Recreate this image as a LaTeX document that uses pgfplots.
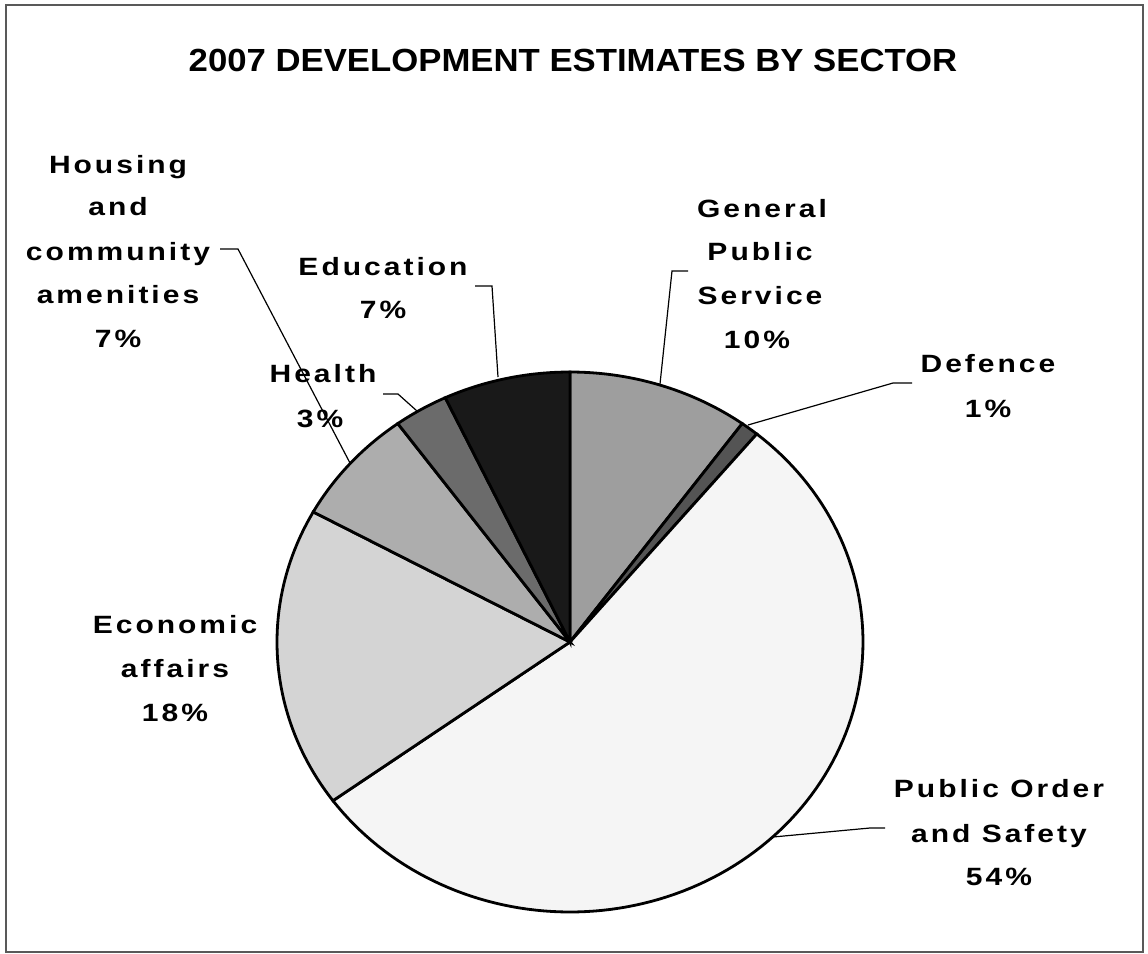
\documentclass[border=0pt]{standalone}
\usepackage{pgfplots}
\pgfplotsset{compat=1.18}
\usepackage{fontspec}
\setmainfont{Liberation Sans}
\newfontfamily\lblfont[FakeStretch=1.2,LetterSpace=12]{Liberation Sans}
\newfontfamily\ttlfont[FakeStretch=1.085]{Liberation Sans}

\definecolor{cgps}{gray}{0.62}
\definecolor{cdef}{gray}{0.33}
\definecolor{cpub}{gray}{0.96}
\definecolor{ceco}{gray}{0.83}
\definecolor{chou}{gray}{0.68}
\definecolor{chea}{gray}{0.42}
\definecolor{cedu}{gray}{0.10}

\tikzset{
  lbl/.style={anchor=base, inner sep=0pt, font=\lblfont\bfseries\fontsize{12.5}{15}\selectfont},
  lead/.style={black, line width=0.6pt},
}

% one wedge: cumulative percent before it, its percent, fill colour
% pie centre (570,642) px, radii 293 x 270 px, starts at 12 o'clock, clockwise
\newcommand{\slice}[3]{%
  \pgfmathsetmacro\angA{90-3.6*#1}%
  \pgfmathsetmacro\angB{90-3.6*(#1+#2)}%
  \edef\doslice{\noexpand\addplot[draw=black, line width=1.4pt, fill=#3,
    domain=\angB:\angA, samples=120]
    ({570+293*cos(x)},{642-270*sin(x)}) -- (axis cs:570,642) -- cycle;}%
  \doslice}

\begin{document}
\begin{tikzpicture}
\begin{axis}[
  width=574pt, height=477pt, scale only axis,
  xmin=0, xmax=1148, ymin=0, ymax=954, y dir=reverse,
  axis lines=none, clip=false,
]
\path (axis cs:0,0) rectangle (axis cs:1148,954);
\draw[gray!70!black, line width=0.8pt] (axis cs:6,5) rectangle (axis cs:1143,952);

% slices (percent of total)
\slice{0}{10}{cgps}   % General Public Service
\slice{10}{1}{cdef}   % Defence
\slice{11}{54}{cpub}  % Public Order and Safety
\slice{65}{18}{ceco}  % Economic affairs
\slice{83}{7}{chou}   % Housing and community amenities
\slice{90}{3}{chea}   % Health
\slice{93}{7}{cedu}   % Education

% title
\node[anchor=base, inner sep=0pt, font=\ttlfont\bfseries\fontsize{16}{19}\selectfont]
  at (axis cs:573,71) {2007 DEVELOPMENT ESTIMATES BY SECTOR};

% leader lines
\draw[lead] (axis cs:220,249) -- (axis cs:238,249) -- (axis cs:350,463);
\draw[lead] (axis cs:383,394) -- (axis cs:398,394) -- (axis cs:417,411);
\draw[lead] (axis cs:475,286) -- (axis cs:492,286) -- (axis cs:498,377);
\draw[lead] (axis cs:688,271) -- (axis cs:672,271) -- (axis cs:660,384);
\draw[lead] (axis cs:912,383) -- (axis cs:893,383) -- (axis cs:748,425);
\draw[lead] (axis cs:885,828) -- (axis cs:870,828) -- (axis cs:773,837);

% labels
\node[lbl] at (axis cs:118,173) {Housing};
\node[lbl] at (axis cs:118,215) {and};
\node[lbl] at (axis cs:118,260) {community};
\node[lbl] at (axis cs:118,303) {amenities};
\node[lbl] at (axis cs:118,347) {7\%};

\node[lbl] at (axis cs:383,275) {Education};
\node[lbl] at (axis cs:383,318) {7\%};

\node[lbl] at (axis cs:323,382) {Health};
\node[lbl] at (axis cs:320,427) {3\%};

\node[lbl] at (axis cs:762,217) {General};
\node[lbl] at (axis cs:760,260) {Public};
\node[lbl] at (axis cs:760,304) {Service};
\node[lbl] at (axis cs:757,348) {10\%};

\node[lbl] at (axis cs:988,372) {Defence};
\node[lbl] at (axis cs:988,417) {1\%};

\node[lbl] at (axis cs:175,633) {Economic};
\node[lbl] at (axis cs:175,677) {affairs};
\node[lbl] at (axis cs:175,721) {18\%};

\node[lbl] at (axis cs:999,797) {Public Order};
\node[lbl] at (axis cs:999,842) {and Safety};
\node[lbl] at (axis cs:999,885) {54\%};
\end{axis}
\end{tikzpicture}
\end{document}
